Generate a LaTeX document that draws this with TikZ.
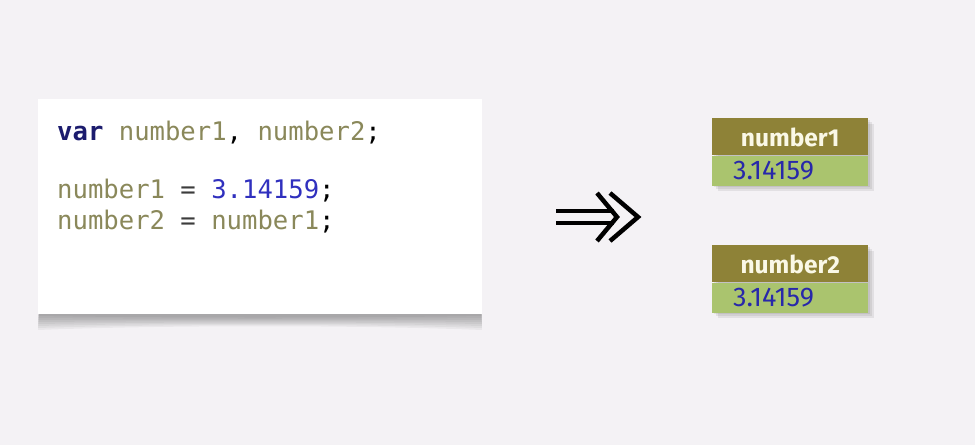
\documentclass[tikz,border=0pt]{standalone}
\usepackage{fontspec}
\setmonofont{DejaVu Sans Mono}
\newfontfamily\boxfont{Fira Sans}
\usetikzlibrary{calc}
\definecolor{bgc}{RGB}{244,242,245}
\definecolor{kw}{RGB}{28,28,110}
\definecolor{idc}{RGB}{138,136,90}
\definecolor{numc}{RGB}{48,48,190}
\definecolor{opc}{RGB}{60,60,60}
\definecolor{hdr}{RGB}{142,130,55}
\definecolor{bod}{RGB}{170,196,110}
\definecolor{hdrtxt}{RGB}{250,248,230}
\definecolor{valtxt}{RGB}{40,40,170}
\tikzset{
  codeline/.style={anchor=base west, inner sep=0pt, font=\ttfamily\fontsize{25.6}{25.6}\selectfont},
  hdrbox/.style={fill=hdr, draw=none},
  bodbox/.style={fill=bod, draw=none},
  hdrlabel/.style={text=hdrtxt, font=\boxfont\bfseries\fontsize{24.5}{24.5}\selectfont, inner sep=0pt},
  vallabel/.style={anchor=base west, text=valtxt, font=\boxfont\fontsize{27}{27}\selectfont, inner sep=0pt},
  arrowline/.style={line width=4.5pt, black},
}
\begin{document}
\begin{tikzpicture}[x=1pt,y=-1pt]
\fill[bgc] (0,0) rectangle (975,445);
\useasboundingbox (0,0) rectangle (975,445);
% code box shadow
\foreach \o in {0,2,...,14}{
  \fill[black,opacity=0.045] (40,300) -- (481,300) -- (482,316+\o) .. controls (360,318+\o*0.5) and (160,318+\o*0.5) .. (38,316+\o) -- cycle;
}
\node[draw=none, fill=white, minimum width=444pt, minimum height=215pt, anchor=north west, inner sep=0pt] (code) at (38,99) {};
% code text
\node[codeline] (l1) at (57,140) {\textcolor{kw}{\bfseries var} \textcolor{idc}{number1}\textcolor{black}{,} \textcolor{idc}{number2}\textcolor{black}{;}};
\node[codeline] (l3) at (57,198) {\textcolor{idc}{number1} \textcolor{opc}{=} \textcolor{numc}{3.14159}\textcolor{black}{;}};
\node[codeline] (l4) at (57,229) {\textcolor{idc}{number2} \textcolor{opc}{=} \textcolor{idc}{number1}\textcolor{black}{;}};
% arrow
\coordinate (a1) at (556,211);
\coordinate (a2) at (556,223);
\coordinate (a1e) at (614,211);
\coordinate (a2e) at (614,223);
\draw[arrowline] (a1) -- (a1e);
\draw[arrowline] (a2) -- (a2e);
\coordinate (c1a) at (597,193);
\coordinate (c1b) at (617,217);
\coordinate (c1c) at (597,241);
\coordinate (c2a) at (610,193);
\coordinate (c2b) at (638,217);
\coordinate (c2c) at (610,241);
\draw[arrowline, line join=miter] (c1a) -- (c1b) -- (c1c);
\draw[arrowline, line join=miter] (c2a) -- (c2b) -- (c2c);
% variable boxes
\foreach \t/\n/\nm in {118/1/number1, 245/2/number2}{
  \foreach \d in {2,4,6}{
    \fill[black,opacity=0.07] (712+\d,\t+\d) rectangle (868+\d,\t+67+\d);
  }
  \node[hdrbox, minimum width=156pt, minimum height=37pt, anchor=north west, inner sep=0pt] (h\n) at (712,\t) {};
  \node[bodbox, minimum width=156pt, minimum height=30pt, anchor=north west, inner sep=0pt] (b\n) at (h\n.south west) {};
  \node[hdrlabel] (ht\n) at ($(h\n.center)+(0,1)$) {\nm};
  \node[vallabel] (v\n) at ($(b\n.west)+(21,9)$) {3.14159};
}
\end{tikzpicture}
\end{document}
